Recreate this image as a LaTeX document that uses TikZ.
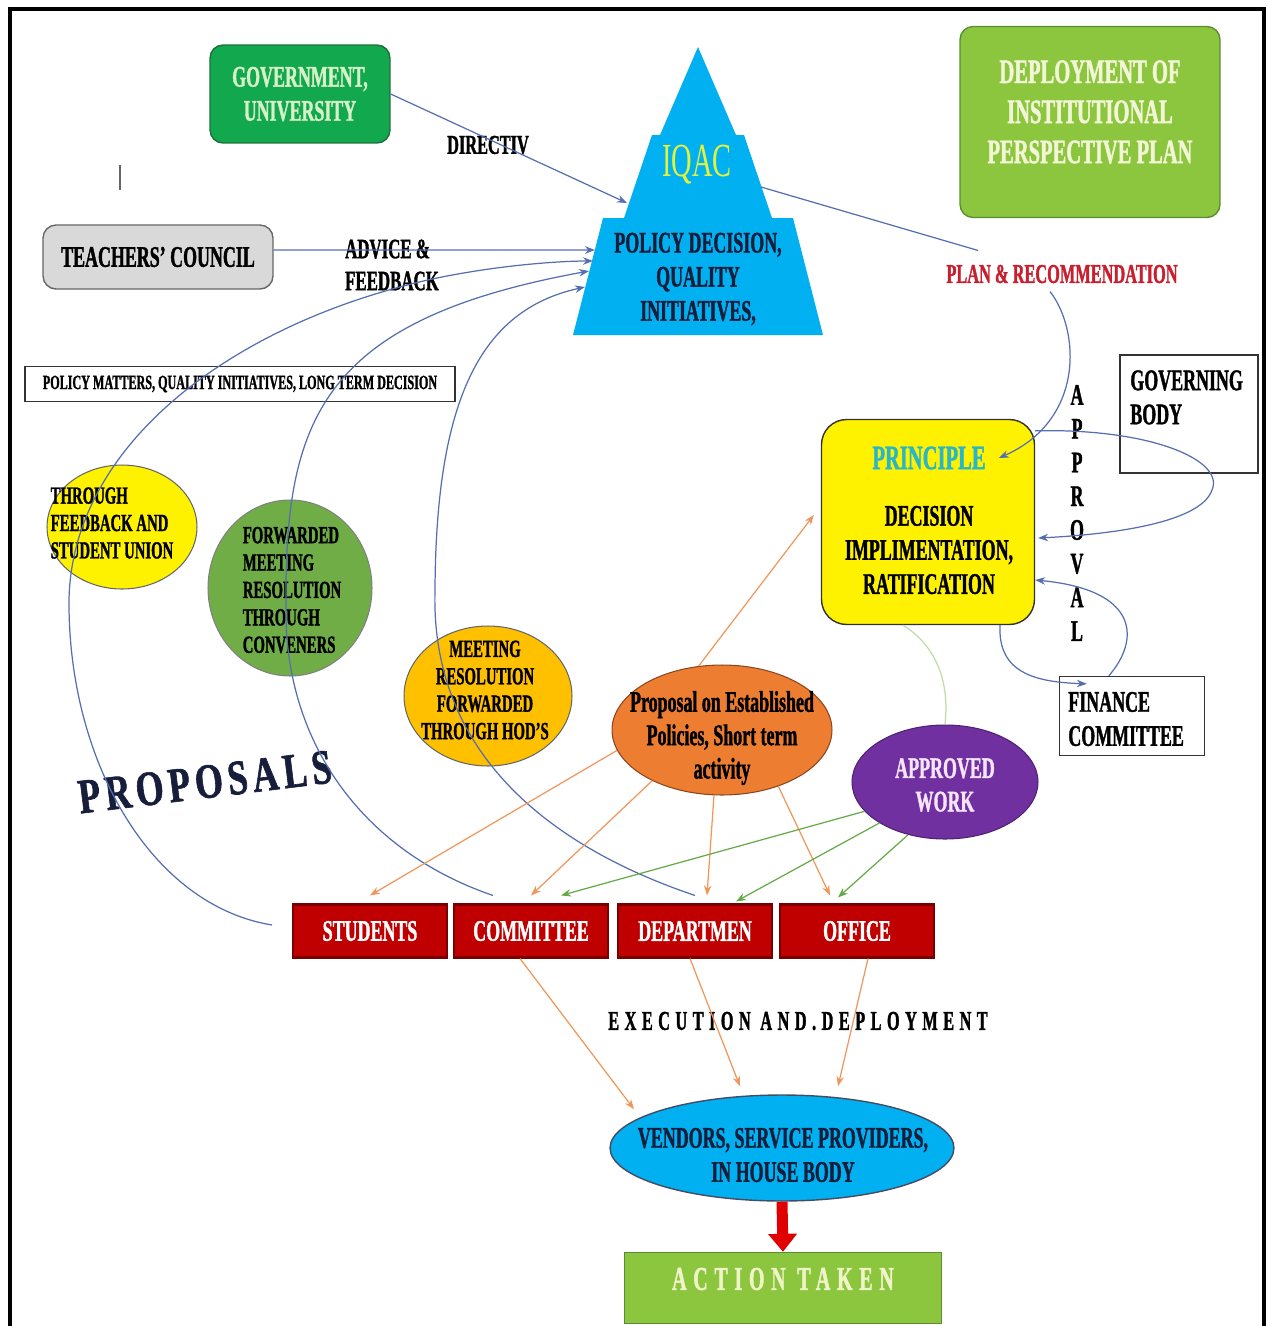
\documentclass[tikz,border=0pt]{standalone}
\usepackage{fontspec}
\setmainfont{Liberation Serif}
\newfontfamily\narrowfont[FakeStretch=0.6, BoldFeatures={FakeBold=1.2}]{Liberation Serif}
\newfontfamily\spacedfont[FakeStretch=0.6, LetterSpace=20, BoldFeatures={FakeBold=1.2}]{Liberation Serif}
\newfontfamily\titlefont[FakeStretch=0.73, LetterSpace=10, BoldFeatures={FakeBold=1.2}]{Liberation Serif}
\usetikzlibrary{shapes.geometric,arrows.meta}

\definecolor{govgreen}{RGB}{17,168,78}
\definecolor{govline}{RGB}{30,110,60}
\definecolor{govtext}{RGB}{214,240,200}
\definecolor{councilgray}{RGB}{217,217,217}
\definecolor{planlime}{RGB}{140,198,63}
\definecolor{planline}{RGB}{90,140,50}
\definecolor{plantext}{RGB}{242,246,214}
\definecolor{iqacblue}{RGB}{0,176,240}
\definecolor{iqacyellow}{RGB}{228,242,60}
\definecolor{navy}{RGB}{22,30,60}
\definecolor{recred}{RGB}{200,30,45}
\definecolor{princteal}{RGB}{40,182,200}
\definecolor{propose}{RGB}{237,125,49}
\definecolor{proposeline}{RGB}{140,70,30}
\definecolor{workpurple}{RGB}{112,48,160}
\definecolor{worktext}{RGB}{245,228,250}
\definecolor{hodgold}{RGB}{255,192,0}
\definecolor{convgreen}{RGB}{112,173,71}
\definecolor{unitred}{RGB}{192,0,0}
\definecolor{unitdark}{RGB}{120,0,0}
\definecolor{linkblue}{RGB}{85,110,175}
\definecolor{linkorange}{RGB}{240,150,90}
\definecolor{linkgreen}{RGB}{100,170,70}
\definecolor{paleline}{RGB}{190,220,170}
\definecolor{actiontext}{RGB}{240,245,200}
\definecolor{arrowred}{RGB}{225,0,0}

\newcommand{\fsz}[2]{\fontsize{#1}{#2}\selectfont}

\begin{document}
\begin{tikzpicture}[x=0.02cm, y=-0.02cm,
    txt/.style={inner sep=0pt, align=center, font=\narrowfont\bfseries\fsz{17}{19.4}},
    small/.style={inner sep=0pt, align=left, font=\narrowfont\bfseries\fsz{14}{15.6}},
    rbox/.style={rectangle, rounded corners=0.26cm, line width=0.8pt},
    sbox/.style={rectangle, draw=black!80, line width=0.8pt},
    blob/.style={ellipse, inner sep=0pt, line width=0.6pt},
    unit/.style={rectangle, fill=unitred, draw=unitdark, line width=1.2pt,
      minimum width=3.08cm, minimum height=1.06cm, txt, text=white},
    flow/.style={draw=linkblue, line width=0.7pt, -{Stealth[length=0.2cm, width=0.15cm]}},
    plain/.style={draw=linkblue, line width=0.7pt},
    down/.style={draw=linkorange, line width=0.7pt, -{Stealth[length=0.2cm, width=0.15cm]}},
    work/.style={draw=linkgreen, line width=0.7pt, -{Stealth[length=0.2cm, width=0.15cm]}}
  ]
  \useasboundingbox (0,0) rectangle (1268,1326);
  \draw[line width=0.07cm] (10,1330) -- (10,9) -- (1264,9) -- (1264,1330);

  % top row
  \node[rbox, fill=govgreen, draw=govline, minimum width=3.6cm, minimum height=1.96cm,
    txt, text=govtext] (gov) at (300,94) {GOVERNMENT,\\UNIVERSITY};
  \node[rbox, fill=councilgray, draw=black!60, minimum width=4.6cm, minimum height=1.28cm,
    txt] (council) at (158,257) {TEACHERS’ COUNCIL};
  \draw[black!60, line width=0.8pt] (120,165) -- (120,190);
  \node[rbox, fill=planlime, draw=planline, minimum width=5.2cm, minimum height=3.82cm] (deploy) at (1090,122) {};
  \node[txt, text=plantext, font=\narrowfont\bfseries\fsz{19.5}{22.8}] (deploytext) at (1090,112)
    {DEPLOYMENT OF\\INSTITUTIONAL\\PERSPECTIVE PLAN};

  % IQAC pyramid
  \fill[iqacblue] (698,47) -- (736,135) -- (744,135) -- (772,218) -- (793,218) -- (823,335)
    -- (573,335) -- (603,218) -- (624,218) -- (652,135) -- (660,135) -- cycle;
  \node[txt, text=iqacyellow, font=\narrowfont\fsz{27}{30}] (iqac) at (697,165) {IQAC};
  \node[txt, text=navy] (iqacbody) at (698,279) {POLICY DECISION,\\QUALITY\\INITIATIVES,};
  \coordinate (dirin) at (627,203);
  \coordinate (advin) at (595,250);
  \coordinate (in1) at (593,261);
  \coordinate (in2) at (589,271);
  \coordinate (in3) at (585,287);
  \coordinate (iqacout) at (761,187);

  \node[txt, font=\narrowfont\bfseries\fsz{15.5}{18}] (directiv) at (488,145) {DIRECTIV};
  \node[txt, align=left, font=\narrowfont\bfseries\fsz{16}{18.2}] (advice) at (392,265) {ADVICE \&\\FEEDBACK};
  \node[txt, text=recred, font=\narrowfont\bfseries\fsz{15.5}{18}] (plan) at (1062,274) {PLAN \& RECOMMENDATION};

  % principle and bodies
  \node[rbox, rounded corners=0.5cm, fill=yellow, draw=black!80, minimum width=4.26cm,
    minimum height=4.1cm] (principle) at (928,522) {};
  \node[txt, text=princteal, font=\narrowfont\bfseries\fsz{19.5}{22}] (princtitle) at (929,458) {PRINCIPLE};
  \node[txt] (princtext) at (929,550) {DECISION\\IMPLIMENTATION,\\RATIFICATION};
  \node[sbox, minimum width=2.76cm, minimum height=2.36cm] (governing) at (1189,414) {};
  \node[txt, align=left, anchor=north west] (govtitle) at (1130,370) {GOVERNING\\BODY};
  \node[txt, font=\narrowfont\bfseries\fsz{17}{19.2}] (approval) at (1077,513) {A\\P\\P\\R\\O\\V\\A\\L};
  \node[sbox, minimum width=2.9cm, minimum height=1.58cm] (finance) at (1132,716) {};
  \node[txt, align=left, anchor=west] (fintext) at (1068,719) {FINANCE\\COMMITTEE};

  % proposals
  \node[blob, fill=propose, draw=proposeline, minimum width=4.4cm, minimum height=2.6cm] (proposal) at (722,730) {};
  \node[txt, font=\narrowfont\bfseries\fsz{17}{19}] (proptext) at (722,738)
    {Proposal on Established\\Policies, Short term\\activity};
  \node[blob, fill=workpurple, draw=workpurple!70!black, minimum width=3.72cm, minimum height=2.28cm] (approved) at (945,782) {};
  \node[txt, text=worktext, font=\narrowfont\bfseries\fsz{17}{19}] (worktext) at (945,785) {APPROVED\\WORK};
  \node[blob, fill=hodgold, draw=black!60, minimum width=3.36cm, minimum height=2.8cm] (hod) at (488,696) {};
  \node[small, align=center] (hodtext) at (485,690) {MEETING\\RESOLUTION\\FORWARDED\\THROUGH HOD’S};
  \node[blob, fill=convgreen, draw=black!50, minimum width=3.28cm, minimum height=3.52cm] (conveners) at (290,588) {};
  \node[small] (convtext) at (292,590) {FORWARDED\\MEETING\\RESOLUTION\\THROUGH\\CONVENERS};
  \node[blob, fill=yellow, draw=black!60, minimum width=3.0cm, minimum height=2.48cm] (union) at (122,527) {};
  \node[small] (uniontext) at (112,523) {THROUGH\\FEEDBACK AND\\STUDENT UNION};
  \node[sbox, minimum width=8.6cm, minimum height=0.7cm, txt, font=\narrowfont\bfseries\fsz{11.5}{13}] (policy) at (240,384)
    {POLICY MATTERS, QUALITY INITIATIVES, LONG TERM DECISION};
  \node[rotate=7, text=navy, font=\titlefont\bfseries\fsz{28}{30}] (proposals) at (205,782) {PROPOSALS};

  % units
  \node[unit] (students) at (370,931) {STUDENTS};
  \node[unit] (committee) at (531,931) {COMMITTEE};
  \node[unit] (department) at (695,931) {DEPARTMEN};
  \node[unit] (office) at (857,931) {OFFICE};

  \node[txt, font=\spacedfont\bfseries\fsz{15.5}{18}] (execution) at (798,1021) {EXECUTION AND.DEPLOYMENT};
  \node[blob, fill=iqacblue, draw=navy!80, line width=0.8pt, minimum width=6.88cm, minimum height=2.12cm] (vendors) at (782,1148) {};
  \node[txt, text=navy] (vendtext) at (783,1155) {VENDORS, SERVICE PROVIDERS,\\IN HOUSE BODY};
  \node[rectangle, fill=planlime, draw=planline, line width=0.8pt, minimum width=6.34cm, minimum height=1.42cm] (action) at (783,1288) {};
  \node[txt, text=actiontext, font=\spacedfont\bfseries\fsz{19}{21}] (actiontext) at (783,1279) {ACTION TAKEN};

  % links to IQAC
  \draw[flow] (gov.east) -- (dirin);
  \draw[flow] ([yshift=0.14cm]council.east) -- (advin);
  \draw[flow] ([xshift=-0.4cm,yshift=0.12cm]students.west) .. controls (150,905) and (68,760) .. (69,600)
    .. controls (72,440) and (240,320) .. (437,278) .. controls (500,265) and (560,261) .. (in1);
  \draw[flow] ([xshift=-0.76cm,yshift=0.16cm]committee.north) .. controls (360,850) and (285,740) .. (286,610)
    .. controls (284,420) and (320,320) .. (in2);
  \draw[flow] ([yshift=0.16cm]department.north) .. controls (560,850) and (430,760) .. (435,590)
    .. controls (436,400) and (480,310) .. (in3);

  % IQAC to principle
  \draw[plain] (iqacout) -- ([xshift=0.64cm,yshift=0.28cm]plan.north west);
  \draw[flow] ([xshift=-0.24cm,yshift=-0.16cm]plan.south) .. controls (1080,330) and (1085,420) .. ([xshift=0.26cm]princtitle.east);
  \draw[flow] ([yshift=-0.24cm]principle.north east) .. controls (1150,428) and (1225,460) .. (1212,490)
    .. controls (1200,525) and (1100,535) .. ([xshift=0.06cm,yshift=-0.32cm]principle.east);
  \draw[flow] ([xshift=1.44cm]principle.south) .. controls (998,670) and (1030,682) .. ([xshift=0.56cm,yshift=-0.16cm]finance.north west);
  \draw[flow] ([xshift=1cm]finance.north west) .. controls (1140,640) and (1140,590) .. ([yshift=-1.16cm]principle.east);
  \draw[paleline, line width=0.7pt] ([xshift=-0.5cm]principle.south) .. controls (935,645) and (950,680) .. (approved.north);

  % proposals down to units
  \draw[down] (proposal.110) -- ([xshift=-0.14cm,yshift=0.14cm]principle.west);
  \draw[down] (proposal.191) -- ([yshift=0.16cm]students.north);
  \draw[down] (proposal.216) -- ([yshift=0.16cm]committee.north);
  \draw[down] (proposal.263) -- ([xshift=0.24cm,yshift=0.16cm]department.north);
  \draw[down] (proposal.315) -- ([xshift=-0.54cm,yshift=0.16cm]office.north);
  \draw[work] (approved.200) -- ([xshift=0.6cm,yshift=0.16cm]committee.north);
  \draw[work] (approved.212) -- ([xshift=0.82cm,yshift=0.04cm]department.north);
  \draw[work] (approved.235) -- ([xshift=-0.38cm,yshift=0.12cm]office.north);

  % execution
  \draw[down] ([xshift=-0.22cm]committee.south) -- ([xshift=-2.96cm,yshift=-0.3cm]vendors.north);
  \draw[down] ([xshift=-0.1cm]department.south) -- ([xshift=-0.84cm,yshift=0.16cm]vendors.north);
  \draw[down] ([xshift=0.22cm]office.south) -- ([xshift=1.12cm,yshift=0.16cm]vendors.north);
  \draw[arrowred, line width=0.22cm, -{Triangle[length=0.36cm, width=0.56cm]}] (vendors.south) -- (action.north);
\end{tikzpicture}
\end{document}
